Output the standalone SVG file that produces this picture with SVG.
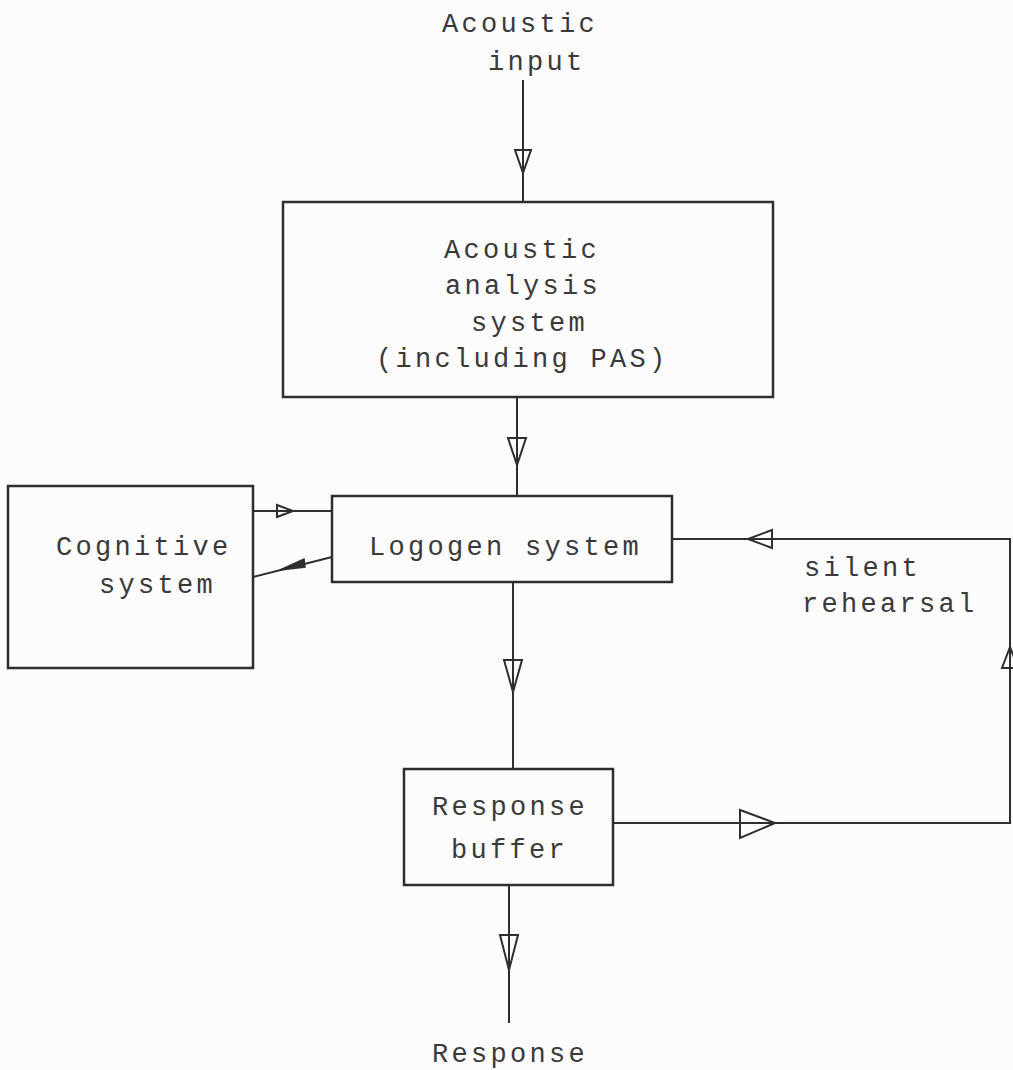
<svg xmlns="http://www.w3.org/2000/svg" width="1013" height="1070" viewBox="0 0 1013 1070">
<style>
.box{fill:none;stroke:#2e2e2e;stroke-width:2.5}
.ln{fill:none;stroke:#2e2e2e;stroke-width:2}
.ah{fill:none;stroke:#2e2e2e;stroke-width:2;stroke-linejoin:miter}
.ahf{fill:#2e2e2e;stroke:#2e2e2e;stroke-width:1.5}
text{font-family:"Liberation Mono","Courier New",monospace;font-size:27px;letter-spacing:3.3px;fill:#3a3a3a}
</style>
<rect width="1013" height="1070" fill="#fcfcfc"/>
<g id="acoustic-input">
<text x="442" y="32">Acoustic</text>
<text x="488" y="70">input</text>
</g>
<g id="acoustic-analysis">
<rect class="box" x="283" y="202" width="490" height="195"/>
<text x="444" y="258">Acoustic</text>
<text x="445" y="294">analysis</text>
<text x="471" y="331">system</text>
<text x="376" y="367">(including PAS)</text>
</g>
<g id="cognitive">
<rect class="box" x="8" y="486" width="245" height="182"/>
<text x="56" y="555">Cognitive</text>
<text x="99" y="593">system</text>
</g>
<g id="logogen">
<rect class="box" x="332" y="496" width="340" height="86"/>
<text x="369" y="555">Logogen system</text>
</g>
<g id="silent-rehearsal">
<text x="804" y="576">silent</text>
<text x="802" y="612">rehearsal</text>
</g>
<g id="response-buffer">
<rect class="box" x="404" y="769" width="209" height="116"/>
<text x="432" y="815">Response</text>
<text x="451" y="858">buffer</text>
</g>
<g id="response">
<text x="432" y="1062">Response</text>
</g>
<g id="connectors">
<path class="ln" d="M523,80 V202"/>
<path class="ah" d="M515,150 L531,150 L523,173 Z"/>
<path class="ln" d="M517,397 V496"/>
<path class="ah" d="M508,438 L526,438 L517,465 Z"/>
<path class="ln" d="M253,511 H332"/>
<path class="ah" d="M277,505 L293,511 L277,517 Z"/>
<path class="ln" d="M332,557 L253,577"/>
<path class="ahf" d="M280,570 L304,559 L305,567 Z"/>
<path class="ln" d="M513,582 V769"/>
<path class="ah" d="M504,660 L522,660 L513,692 Z"/>
<path class="ln" d="M672,539 H1010 V823 H613"/>
<path class="ah" d="M772,530 L748,539 L772,548 Z"/>
<path class="ah" d="M1002,668 L1010,647 L1018,668 Z"/>
<path class="ah" d="M740,810 L775,823 L740,838 Z"/>
<path class="ln" d="M509,885 V1023"/>
<path class="ah" d="M500,935 L518,935 L509,970 Z"/>
</g>
</svg>
